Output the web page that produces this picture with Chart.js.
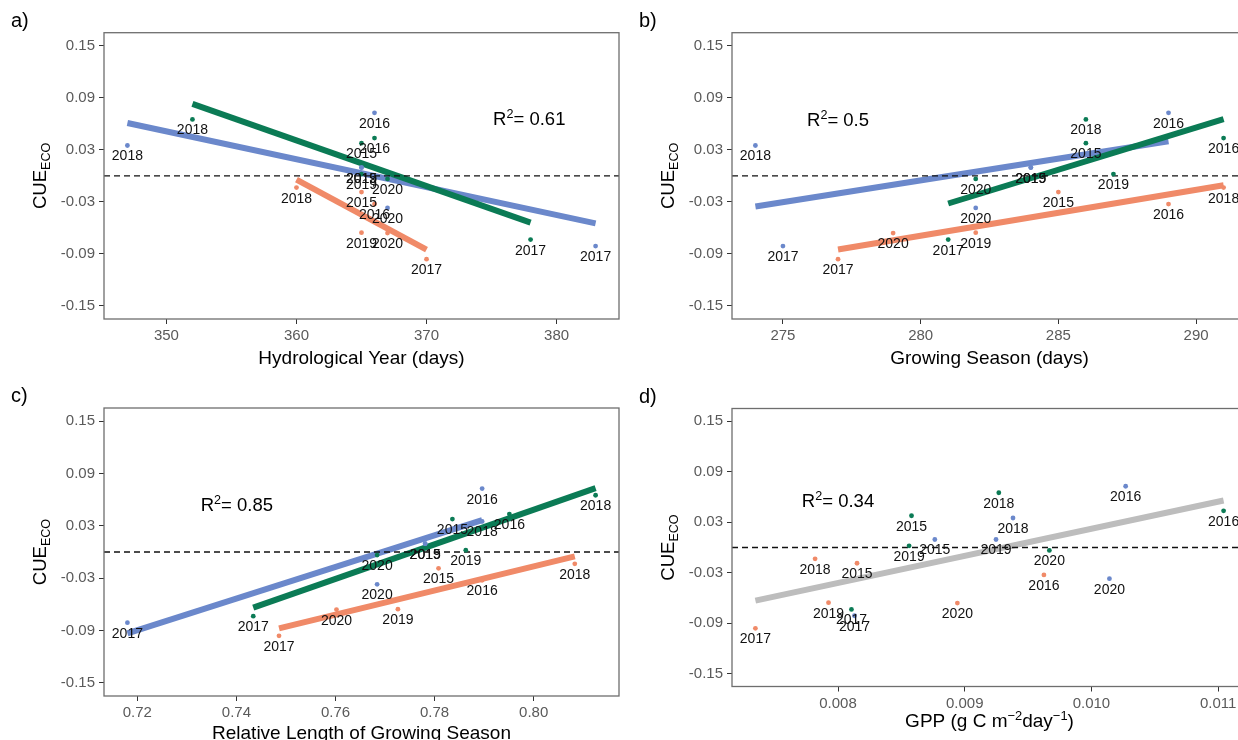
<!DOCTYPE html>
<html>
<head>
<meta charset="utf-8">
<script src="https://cdn.jsdelivr.net/npm/chart.js@4.4.1/dist/chart.umd.min.js"></script>
<style>
  body { margin: 0; background: #fff; width: 1238px; height: 740px; overflow: hidden; position: relative; }
  .panel { position: absolute; }
</style>
</head>
<body>
<div class="panel" style="left:0px;top:0px"><canvas id="pa" width="640" height="370"></canvas></div>
<div class="panel" style="left:627.8px;top:0px"><canvas id="pb" width="640" height="370"></canvas></div>
<div class="panel" style="left:0px;top:370px"><canvas id="pc" width="640" height="370"></canvas></div>
<div class="panel" style="left:627.8px;top:370px"><canvas id="pd" width="640" height="370"></canvas></div>
<script>
// years of each point, same order in every array below
var years = ['2015', '2016', '2017', '2018', '2019', '2020'];

// CUE_ECO per site
var cueBlue   = [0.0095, 0.0727, -0.081, 0.035, 0.0095, -0.037];
var cueGreen  = [0.0377, 0.0435, -0.0735, 0.065, 0.002, -0.0035];
var cueOrange = [-0.0187, -0.0325, -0.096, -0.0135, -0.0655, -0.066];

// a) hydrological year (days)
var hydroBlue   = [365, 366, 383, 347, 365, 367];
var hydroGreen  = [365, 366, 378, 352, 365, 367];
var hydroOrange = [365, 366, 370, 360, 365, 367];

// b) growing season (days)
var gsBlue   = [284, 289, 275, 274, 284, 282];
var gsGreen  = [286, 291, 281, 286, 287, 282];
var gsOrange = [285, 289, 277, 291, 282, 279];

// c) relative length of growing season
var relBlue   = [0.7781, 0.7896, 0.7180, 0.7896, 0.7781, 0.7684];
var relGreen  = [0.7836, 0.7951, 0.7434, 0.8125, 0.7863, 0.7684];
var relOrange = [0.7808, 0.7896, 0.7486, 0.8083, 0.7726, 0.7602];

// d) GPP (g C m-2 day-1)
var gppBlue   = [0.008764, 0.01027, 0.00813, 0.009381, 0.009247, 0.010142];
var gppGreen  = [0.00858, 0.011043, 0.008106, 0.009269, 0.008561, 0.009668];
var gppOrange = [0.00815, 0.009625, 0.007348, 0.007819, 0.007925, 0.008942];

var yTicks = [-0.15, -0.09, -0.03, 0.03, 0.09, 0.15];
var xTicksA = [350, 360, 370, 380];
var xTicksB = [275, 280, 285, 290];
var xTicksC = [0.72, 0.74, 0.76, 0.78, 0.80];
var xTicksD = [0.008, 0.009, 0.010, 0.011];

var r2Text = ['0.61', '0.5', '0.85', '0.34'];
// where the R2 note sits, in data units
var r2X = [377.9, 277.0, 0.7401, 0.0080];
var r2Y = [0.0667, 0.065, 0.055, 0.0555];

var FONT = '"Liberation Sans", Arial, Helvetica, sans-serif';
var BLUE = '#6b88cb', GREEN = '#0b7b55', ORANGE = '#f08a68', GREY = '#bdbdbd';

function fit(xs, ys) {
  var n = xs.length, mx = 0, my = 0, sxy = 0, sxx = 0;
  for (var i = 0; i < n; i++) { mx += xs[i]; my += ys[i]; }
  mx /= n; my /= n;
  for (var i = 0; i < n; i++) { sxy += (xs[i] - mx) * (ys[i] - my); sxx += (xs[i] - mx) * (xs[i] - mx); }
  var b = sxy / sxx, lo = Math.min.apply(null, xs), hi = Math.max.apply(null, xs);
  return [{x: lo, y: my + b * (lo - mx)}, {x: hi, y: my + b * (hi - mx)}];
}

// draws text made of pieces, some raised or lowered
function richText(ctx, parts, size, x, y, align) {
  var w = 0;
  parts.forEach(function (p) {
    ctx.font = (p.s ? size * 0.68 : size) + 'px ' + FONT;
    p.w = ctx.measureText(p.t).width;
    w += p.w;
  });
  var cx = align === 'center' ? x - w / 2 : x;
  ctx.textAlign = 'left';
  ctx.textBaseline = 'alphabetic';
  parts.forEach(function (p) {
    ctx.font = (p.s ? size * 0.68 : size) + 'px ' + FONT;
    ctx.fillText(p.t, cx, y + (p.s || 0));
    cx += p.w;
  });
}

var panelPlugin = {
  id: 'panel',
  afterDatasetsDraw: function (chart) {
    var ctx = chart.ctx, a = chart.chartArea, o = chart.options.plugins.panel;
    var sx = chart.scales.x, sy = chart.scales.y;
    ctx.save();
    // year labels under points
    ctx.fillStyle = '#111';
    ctx.font = '14px ' + FONT;
    ctx.textAlign = 'center';
    ctx.textBaseline = 'alphabetic';
    chart.data.datasets.forEach(function (ds) {
      if (!ds.labels) return;
      ds.data.forEach(function (pt, i) {
        ctx.fillText(ds.labels[i], sx.getPixelForValue(pt.x), sy.getPixelForValue(pt.y) + 15);
      });
    });
    // panel box
    ctx.strokeStyle = '#6e6e6e';
    ctx.lineWidth = 1.3;
    ctx.strokeRect(a.left, a.top, a.right - a.left, a.bottom - a.top);
    ctx.fillStyle = '#000';
    // R2 note
    richText(ctx, [{t: 'R'}, {t: '2', s: -7}, {t: '= ' + o.r2}], 18.5,
      sx.getPixelForValue(o.r2x), sy.getPixelForValue(o.r2y) + 6.6, 'center');
    // x title
    richText(ctx, o.xTitle, 19, (a.left + a.right) / 2, a.bottom + o.xTitleDy, 'center');
    // y title
    ctx.translate(a.left - 58, (a.top + a.bottom) / 2);
    ctx.rotate(-Math.PI / 2);
    richText(ctx, [{t: 'CUE'}, {t: 'ECO', s: 4}], 18.5, 0, 0, 'center');
    ctx.restore();
    // panel tag
    ctx.save();
    ctx.fillStyle = '#000';
    ctx.font = '20px ' + FONT;
    ctx.textAlign = 'left';
    ctx.fillText(o.tag, a.left - 93, a.top - 6);
    ctx.restore();
  }
};

function makePanel(id, p) {
  var datasets = [];
  var allX = [], allY = [];
  p.groups.forEach(function (g) { allX = allX.concat(g.xs); allY = allY.concat(g.ys); });
  var lo = Math.min.apply(null, allX), hi = Math.max.apply(null, allX), pad = (hi - lo) * 0.05;
  var xmin = lo - pad, xmax = hi + pad;

  p.groups.forEach(function (g, k) {
    datasets.push({
      data: g.xs.map(function (x, i) { return {x: x, y: g.ys[i]}; }),
      labels: years,
      backgroundColor: g.color, borderWidth: 0, pointRadius: 2.4, pointHoverRadius: 2.4,
      order: 0
    });
    if (!p.fitAll) {
      datasets.push({
        data: fit(g.xs, g.ys), showLine: true, borderColor: g.color, borderWidth: 6,
        borderCapStyle: 'butt', pointRadius: 0, order: 10 - k
      });
    }
  });
  if (p.fitAll) {
    datasets.push({
      data: fit(allX, allY), showLine: true, borderColor: GREY, borderWidth: 6,
      borderCapStyle: 'butt', pointRadius: 0, order: 10
    });
  }
  // dashed zero line
  datasets.push({
    data: [{x: xmin, y: 0}, {x: xmax, y: 0}], showLine: true, borderColor: '#111',
    borderWidth: 1.3, borderDash: [6, 4], pointRadius: 0, order: 1
  });

  var tickFont = {size: 15, family: FONT};
  new Chart(document.getElementById(id), {
    type: 'scatter',
    data: {datasets: datasets},
    options: {
      responsive: false,
      animation: false,
      devicePixelRatio: 1,
      layout: {padding: {top: p.padTop, right: 21, left: 0, bottom: 0}},
      plugins: {
        legend: {display: false},
        tooltip: {enabled: false},
        panel: {r2: p.r2, r2x: p.r2x, r2y: p.r2y, xTitle: p.xTitle, xTitleDy: p.xTitleDy, tag: p.tag}
      },
      scales: {
        x: {
          type: 'linear', min: xmin, max: xmax,
          afterBuildTicks: function (s) { s.ticks = p.xTicks.map(function (v) { return {value: v}; }); },
          afterFit: function (s) { s.height = p.xAxisH; },
          grid: {drawOnChartArea: false, drawTicks: true, tickLength: 5, color: '#333', lineWidth: 1},
          border: {display: false},
          ticks: {callback: function (v) { return v.toFixed(p.xDec); }, font: tickFont, color: '#5a5a5a',
                  padding: 3, maxRotation: 0, autoSkip: false}
        },
        y: {
          type: 'linear', min: -0.165, max: 0.165,
          afterBuildTicks: function (s) { s.ticks = yTicks.map(function (v) { return {value: v}; }); },
          afterFit: function (s) { s.width = p.yAxisW; },
          grid: {drawOnChartArea: false, drawTicks: true, tickLength: 5, color: '#333', lineWidth: 1},
          border: {display: false},
          ticks: {callback: function (v) { return v.toFixed(2); }, font: tickFont, color: '#5a5a5a',
                  padding: 4, autoSkip: false}
        }
      }
    },
    plugins: [panelPlugin]
  });
}

makePanel('pa', {
  groups: [{xs: hydroBlue, ys: cueBlue, color: BLUE}, {xs: hydroGreen, ys: cueGreen, color: GREEN},
           {xs: hydroOrange, ys: cueOrange, color: ORANGE}],
  xTicks: xTicksA, xDec: 0, padTop: 32.7, xAxisH: 51, yAxisW: 104,
  r2: r2Text[0], r2x: r2X[0], r2y: r2Y[0], tag: 'a)', xTitleDy: 44.5,
  xTitle: [{t: 'Hydrological Year (days)'}]
});
makePanel('pb', {
  groups: [{xs: gsBlue, ys: cueBlue, color: BLUE}, {xs: gsGreen, ys: cueGreen, color: GREEN},
           {xs: gsOrange, ys: cueOrange, color: ORANGE}],
  xTicks: xTicksB, xDec: 0, padTop: 32.7, xAxisH: 51, yAxisW: 104,
  r2: r2Text[1], r2x: r2X[1], r2y: r2Y[1], tag: 'b)', xTitleDy: 44.5,
  xTitle: [{t: 'Growing Season (days)'}]
});
makePanel('pc', {
  groups: [{xs: relBlue, ys: cueBlue, color: BLUE}, {xs: relGreen, ys: cueGreen, color: GREEN},
           {xs: relOrange, ys: cueOrange, color: ORANGE}],
  xTicks: xTicksC, xDec: 2, padTop: 38, xAxisH: 44, yAxisW: 104,
  r2: r2Text[2], r2x: r2X[2], r2y: r2Y[2], tag: 'c)', xTitleDy: 42.5,
  xTitle: [{t: 'Relative Length of Growing Season'}]
});
makePanel('pd', {
  groups: [{xs: gppBlue, ys: cueBlue, color: BLUE}, {xs: gppGreen, ys: cueGreen, color: GREEN},
           {xs: gppOrange, ys: cueOrange, color: ORANGE}],
  fitAll: true,
  xTicks: xTicksD, xDec: 3, padTop: 38.5, xAxisH: 53.5, yAxisW: 104,
  r2: r2Text[3], r2x: r2X[3], r2y: r2Y[3], tag: 'd)', xTitleDy: 40,
  xTitle: [{t: 'GPP (g C m'}, {t: '\u22122', s: -7}, {t: 'day'}, {t: '\u22121', s: -7}, {t: ')'}]
});
</script>
</body>
</html>
